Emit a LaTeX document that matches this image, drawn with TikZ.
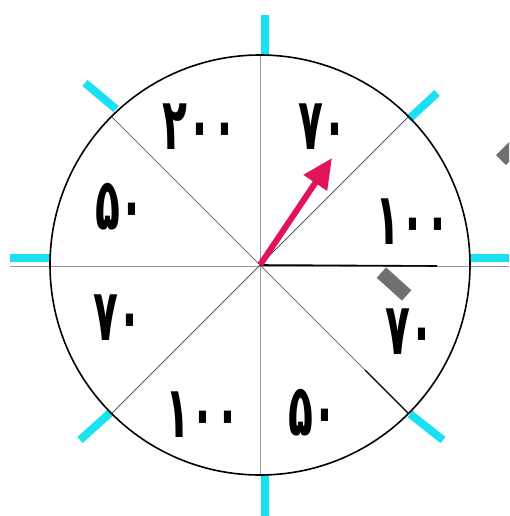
\documentclass[tikz,border=0pt]{standalone}
\usepackage{fontspec}
\usepackage{graphicx}
\newfontfamily\arabicfont[Script=Arabic]{DejaVu Sans}
\usetikzlibrary{arrows.meta}
\definecolor{tickcyan}{RGB}{25,225,240}
\definecolor{arrowred}{RGB}{226,20,88}
\definecolor{markgray}{RGB}{112,112,112}
\definecolor{linegray}{RGB}{150,150,150}
\newcommand{\tallnum}[1]{\scalebox{0.85}[1.5]{#1}}
\tikzset{
  cyantick/.style={draw=tickcyan,line width=8pt},
  spoke/.style={draw=linegray,line width=0.9pt},
  rim/.style={draw=black,line width=1.6pt},
  num/.style={font=\arabicfont\bfseries\fontsize{48}{56}\selectfont,inner sep=0pt},
  marker/.style={fill=markgray,minimum width=34pt,minimum height=14pt,inner sep=0pt},
  pointer/.style={draw=arrowred,line width=6pt,-{Triangle[length=30pt,width=27pt]}}
}
\begin{document}
\begin{tikzpicture}[x=1pt,y=-1pt]
\useasboundingbox (0,0) rectangle (509,516);
\clip (0,0) rectangle (509,516);
\coordinate (O) at (260,265);
% cyan ticks
\draw[cyantick] (265,15) -- (265,56);
\draw[cyantick] (265,474) -- (265,516);
\draw[cyantick] (10,258) -- (50,258);
\draw[cyantick] (470,258) -- (509,258);
\draw[cyantick] (85,83) -- (116,109);
\draw[cyantick] (437,93) -- (409,119);
\draw[cyantick] (410,414) -- (443,440);
\draw[cyantick] (110,413) -- (80,440);
% spokes
\draw[spoke] (260,55) -- (260,475);
\draw[spoke] (10,266) -- (509,266);
\draw[spoke,draw=darkgray,line width=0.7pt] (111.5,116.5) -- (408.5,413.5);
\draw[spoke,draw=darkgray,line width=0.7pt] (111.5,413.5) -- (408.5,116.5);
\draw[black,line width=1.6pt] (O) -- (437,266);
\draw[black,line width=1.4pt] (365,370) -- (408.5,413.5);
% rim
\draw[rim] (O) circle[radius=210pt];
% numbers
\node[num] (n1) at (200,127) {\tallnum{۲۰۰}};
\node[num] (n2) at (323,127) {\tallnum{۷۰}};
\node[num] (n3) at (413,222) {\tallnum{۱۰۰}};
\node[num] (n4) at (410,332) {\tallnum{۷۰}};
\node[num] (n5) at (313,413) {\tallnum{۵۰}};
\node[num] (n6) at (203,415) {\tallnum{۱۰۰}};
\node[num] (n7) at (118,318) {\tallnum{۷۰}};
\node[num] (n8) at (120,207) {\tallnum{۵۰}};
% gray markers
\node[marker,rotate=-42] (m1) at (394,284) {};
\node[marker,rotate=45] (m2) at (513,148) {};
% arrow
\coordinate (T) at (332,158);
\draw[pointer] (O) -- (T);
\end{tikzpicture}
\end{document}
